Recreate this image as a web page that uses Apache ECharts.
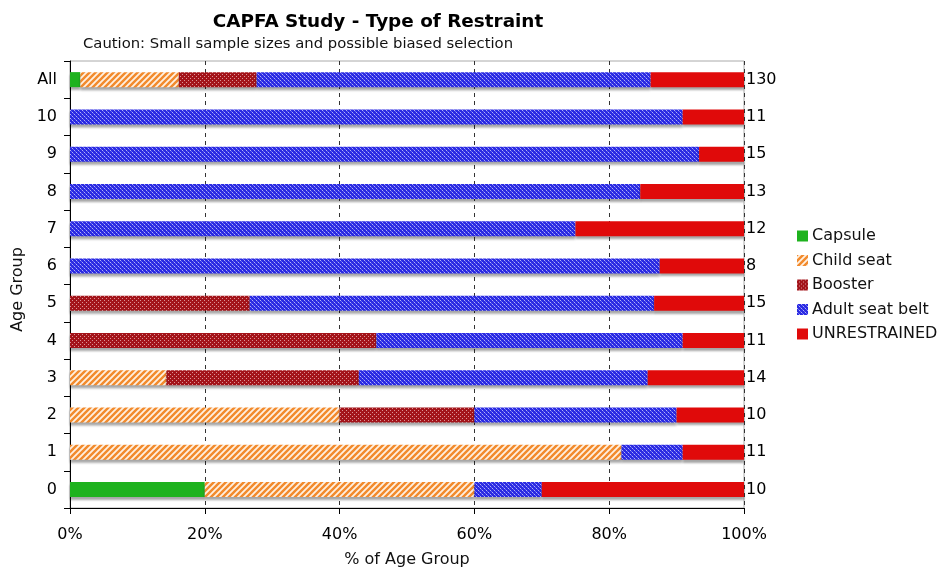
<!DOCTYPE html>
<html>
<head>
<meta charset="utf-8">
<script src="https://cdn.jsdelivr.net/npm/echarts@6/dist/echarts.min.js"></script>
<style>
  html, body { margin: 0; padding: 0; background: #fff; }
  #chart { width: 937px; height: 567px; }
</style>
</head>
<body>
<div id="chart"></div>
<script>
// age groups, bottom to top
var ageGroups = ['0', '1', '2', '3', '4', '5', '6', '7', '8', '9', '10', 'All'];
var groupTotals = ['10', '11', '10', '14', '11', '15', '8', '12', '13', '15', '11', '130'];

// children counted per restraint type
var capsule      = [2, 0, 0, 0, 0, 0, 0, 0, 0, 0, 0, 2];
var childSeat    = [4, 9, 4, 2, 0, 0, 0, 0, 0, 0, 0, 19];
var booster      = [0, 0, 2, 4, 5, 4, 0, 0, 0, 0, 0, 15];
var adultBelt    = [1, 1, 3, 6, 5, 9, 7, 9, 11, 14, 10, 76];
var unrestrained = [3, 1, 1, 2, 1, 2, 1, 3, 2, 1, 1, 18];

var FONT = 'DejaVu Sans';

function toPct(arr) {
	return arr.map(function (v, i) {
		return v / (+groupTotals[i]) * 100;
	});
}

// small tiled fills to mimic the hatched look
function makePattern(size, draw) {
	var c = document.createElement('canvas');
	c.width = size;
	c.height = size;
	draw(c.getContext('2d'), size);
	return { image: c, repeat: 'repeat' };
}

var stripeFill = makePattern(6, function (ctx, s) {
	ctx.fillStyle = '#fff0e0';
	ctx.fillRect(0, 0, s, s);
	ctx.strokeStyle = '#f28a2c';
	ctx.lineWidth = 2.4;
	ctx.beginPath();
	ctx.moveTo(-1, s + 1); ctx.lineTo(s + 1, -1);
	ctx.moveTo(-1, 1); ctx.lineTo(1, -1);
	ctx.moveTo(s - 1, s + 1); ctx.lineTo(s + 1, s - 1);
	ctx.stroke();
});

var boosterFill = makePattern(4, function (ctx, s) {
	ctx.fillStyle = '#a3141a';
	ctx.fillRect(0, 0, s, s);
	ctx.fillStyle = '#dc9396';
	ctx.fillRect(0, 0, 1, 1);
	ctx.fillRect(2, 2, 1, 1);
});

var beltFill = makePattern(4, function (ctx, s) {
	ctx.fillStyle = '#2a2ae2';
	ctx.fillRect(0, 0, s, s);
	ctx.fillStyle = '#b0b0f8';
	ctx.fillRect(0, 0, 1, 1);
	ctx.fillRect(2, 2, 1, 1);
	ctx.fillStyle = '#6868f0';
	ctx.fillRect(1, 1, 1, 1);
	ctx.fillRect(3, 3, 1, 1);
});

var names = ['Capsule', 'Child seat', 'Booster', 'Adult seat belt', 'UNRESTRAINED'];
var fills = ['#1eb21e', stripeFill, boosterFill, beltFill, '#e00a0a'];
var counts = [capsule, childSeat, booster, adultBelt, unrestrained];

var chart = echarts.init(document.getElementById('chart'));

chart.setOption({
	animation: false,
	textStyle: { fontFamily: FONT },
	title: [
		{
			text: 'CAPFA Study - Type of Restraint',
			left: 373,
			textAlign: 'center',
			top: 8,
			textStyle: { fontFamily: FONT, fontSize: 18.4, fontWeight: 'bold', color: '#000' }
		},
		{
			text: 'Caution: Small sample sizes and possible biased selection',
			left: 78,
			top: 32,
			textStyle: { fontFamily: FONT, fontSize: 14.8, fontWeight: 'normal', color: '#111' }
		}
	],
	legend: {
		orient: 'vertical',
		left: 797,
		top: 228,
		padding: 0,
		itemWidth: 11,
		itemHeight: 11,
		itemGap: 8.5,
		icon: 'rect',
		data: names,
		textStyle: { fontFamily: FONT, fontSize: 16, color: '#111', padding: [0, 0, 0, -1] }
	},
	grid: {
		left: 70,
		right: 193,
		top: 61,
		bottom: 59,
		outerBoundsMode: 'none',
		containLabel: false,
		show: true,
		borderColor: '#aaa',
		borderWidth: 1
	},
	xAxis: {
		type: 'value',
		min: 0,
		max: 100,
		interval: 20,
		name: '% of Age Group',
		nameLocation: 'middle',
		nameGap: 44,
		nameTextStyle: { fontFamily: FONT, fontSize: 16, color: '#111' },
		axisLine: { show: true, lineStyle: { color: '#000', width: 1 } },
		axisTick: { show: true, length: 6, lineStyle: { color: '#000' } },
		axisLabel: { formatter: '{value}%', fontFamily: FONT, fontSize: 16, color: '#000', margin: 19 },
		splitLine: { show: true, lineStyle: { color: '#333', type: [4, 4], width: 1 } }
	},
	yAxis: [
		{
			type: 'category',
			data: ageGroups,
			name: 'Age Group',
			nameLocation: 'middle',
			nameRotate: 90,
			nameGap: 42,
			nameTextStyle: { fontFamily: FONT, fontSize: 16, color: '#111', padding: [0, 10, 0, 0] },
			axisLine: { show: true, lineStyle: { color: '#000', width: 1 } },
			axisTick: { show: true, length: 6, lineStyle: { color: '#000' } },
			axisLabel: { fontFamily: FONT, fontSize: 16, color: '#000', margin: 13 }
		},
		{
			type: 'category',
			position: 'right',
			data: groupTotals,
			axisLine: { show: false },
			axisTick: { show: false },
			axisLabel: { fontFamily: FONT, fontSize: 16, color: '#000', margin: 2 }
		}
	],
	series: names.map(function (name, k) {
		return {
			name: name,
			type: 'bar',
			stack: 'all',
			barWidth: 15,
			data: toPct(counts[k]),
			itemStyle: {
				color: fills[k],
				shadowColor: 'rgba(0,0,0,0.35)',
				shadowOffsetY: 3,
				shadowBlur: 2
			}
		};
	})
});
</script>
</body>
</html>
